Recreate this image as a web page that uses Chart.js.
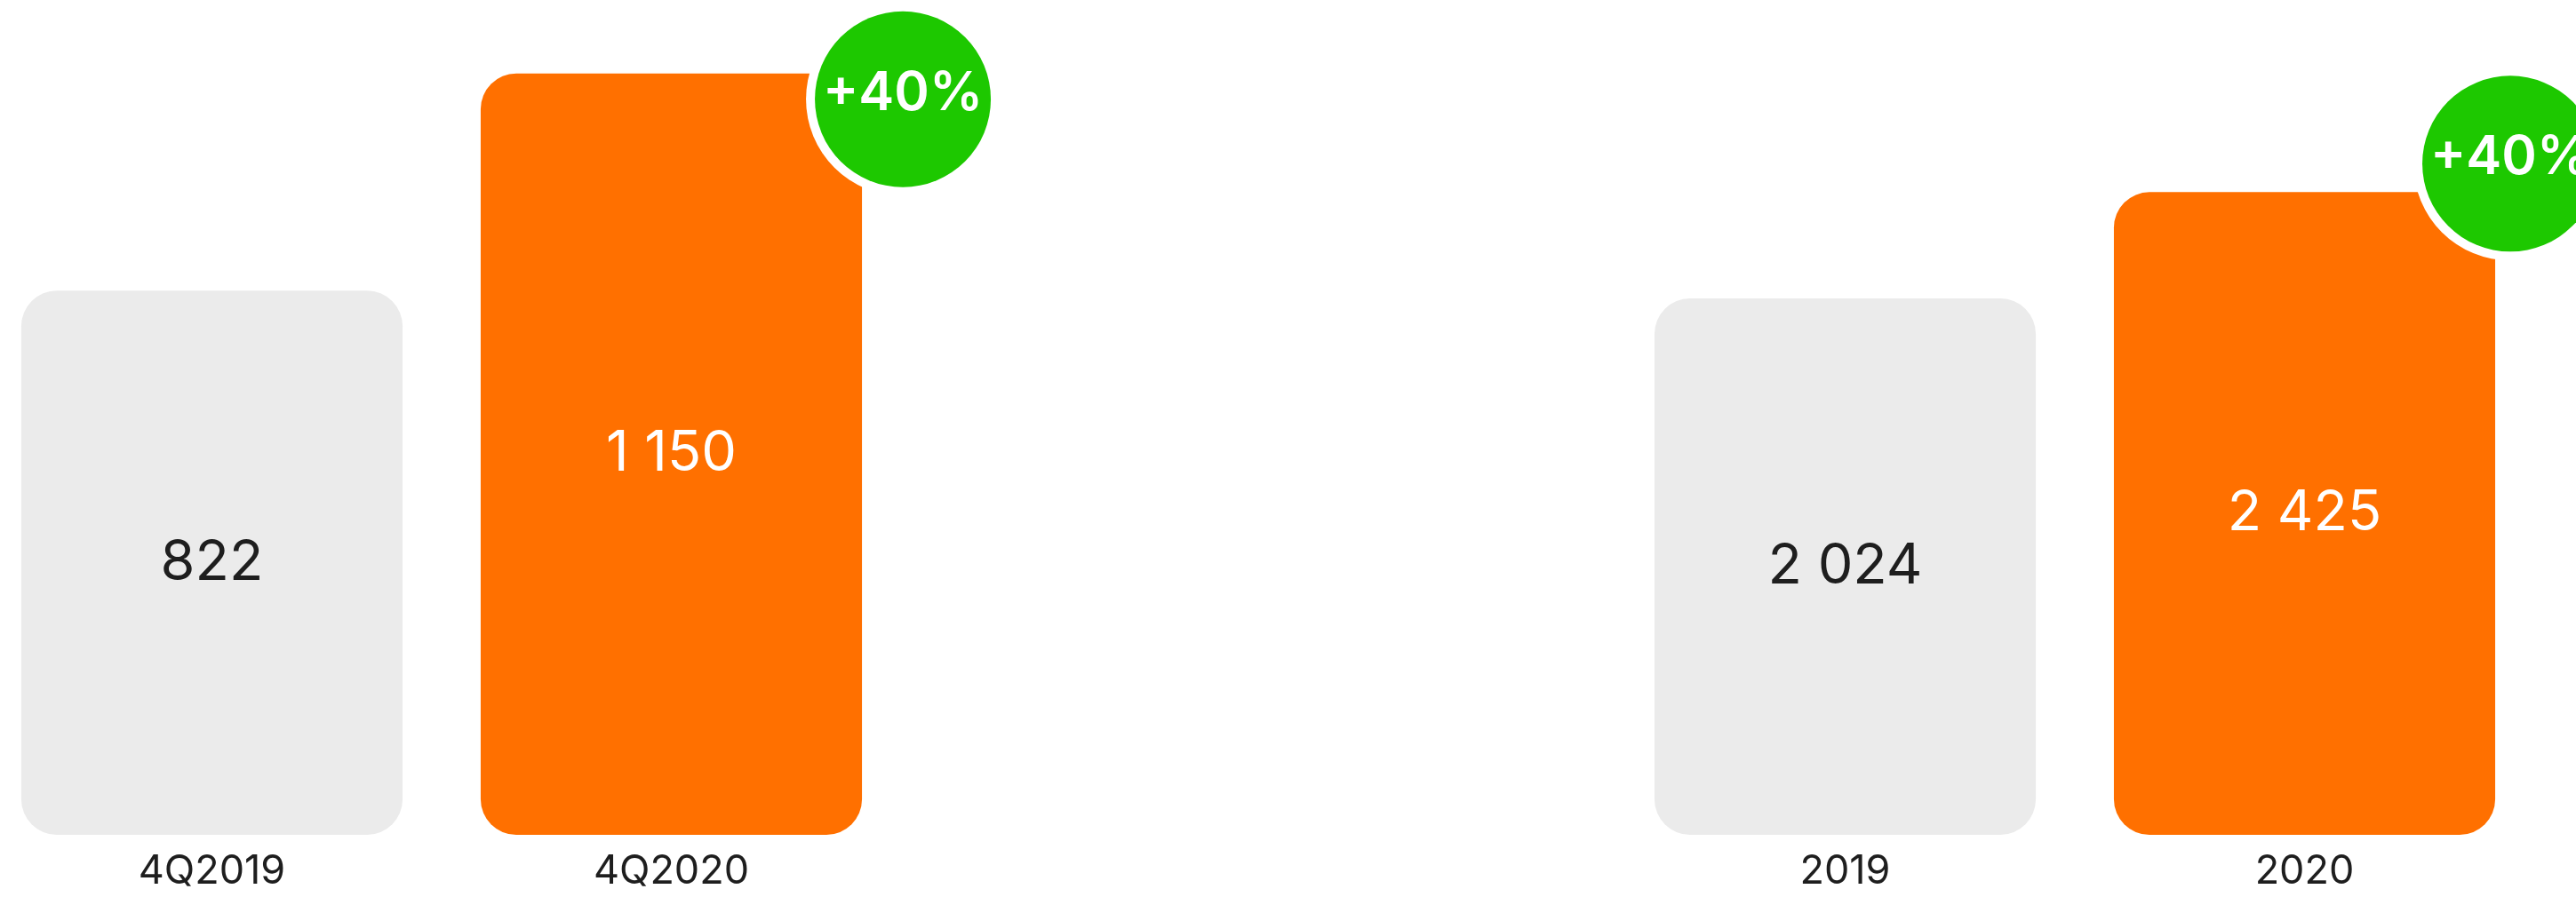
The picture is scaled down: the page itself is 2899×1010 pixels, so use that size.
<!DOCTYPE html>
<html>
<head>
<meta charset="utf-8">
<script src="https://cdn.jsdelivr.net/npm/chart.js@4"></script>
<style>
  html, body { margin: 0; padding: 0; background: #ffffff; overflow: hidden; }
  body { width: 2899px; height: 1010px; position: relative; }
  canvas { position: absolute; top: 0; }
  #left { left: -20px; }
  #right { left: 1818px; }
</style>
</head>
<body>
<canvas id="left" width="1160" height="1010" style="width:1160px;height:1010px"></canvas>
<canvas id="right" width="1081" height="1010" style="width:1081px;height:1010px"></canvas>
<script>
// ---- data ----
const leftCategories = ['4Q2019', '4Q2020'];
const leftValues = [822, 1150];
const leftBadge = '+40%';

const rightCategories = ['2019', '2020'];
const rightValues = [2024, 2425];
const rightBadge = '+40%';

// ---- styles ----
const barColors = ['#EBEBEB', '#FF7000'];
const valueColors = ['#1E1E1E', '#FFFFFF'];
const GREEN = '#1DC800';
const FONT = 'Inter, "Noto Sans", sans-serif';

function fmt(v) {
  return String(v).replace(/\B(?=(\d{3})+(?!\d))/g, ' ');
}

const labelsPlugin = {
  id: 'barLabels',
  afterDatasetsDraw(chart, args, opts) {
    const ctx = chart.ctx;
    const meta = chart.getDatasetMeta(0);
    const data = chart.data.datasets[0].data;
    ctx.save();
    ctx.font = '400 63px ' + FONT;
    ctx.textAlign = 'center';
    ctx.textBaseline = 'middle';
    meta.data.forEach((bar, i) => {
      ctx.fillStyle = valueColors[i];
      const cy = (bar.y + bar.base) / 2;
      ctx.fillText(fmt(data[i]), bar.x, cy);
    });
    // badge on last bar
    const last = meta.data[meta.data.length - 1];
    const bx = last.x + last.width / 2 + opts.dx;
    const by = last.y + opts.dy;
    ctx.beginPath();
    ctx.arc(bx, by, opts.r + 10, 0, Math.PI * 2);
    ctx.fillStyle = '#FFFFFF';
    ctx.fill();
    ctx.beginPath();
    ctx.arc(bx, by, opts.r, 0, Math.PI * 2);
    ctx.fillStyle = GREEN;
    ctx.fill();
    ctx.fillStyle = '#FFFFFF';
    ctx.font = '600 60px ' + FONT;
    ctx.textAlign = 'center';
    ctx.textBaseline = 'middle';
    ctx.fillText(opts.text, bx, by - 6);
    ctx.restore();
  }
};

function makeChart(id, cats, vals, yMax, padRight, badge) {
  return new Chart(document.getElementById(id), {
    type: 'bar',
    data: {
      labels: cats,
      datasets: [{
        data: vals,
        backgroundColor: barColors,
        borderRadius: 40,
        borderSkipped: false,
        barPercentage: 0.83,
        categoryPercentage: 1.0
      }]
    },
    options: {
      responsive: false,
      animation: false,
      devicePixelRatio: 1,
      layout: { padding: { left: 0, right: padRight, top: 0, bottom: 0 } },
      plugins: {
        legend: { display: false },
        tooltip: { enabled: false },
        barLabels: badge
      },
      scales: {
        x: {
          grid: { display: false, drawTicks: false },
          border: { display: false },
          ticks: {
            color: '#1E1E1E',
            font: { family: FONT, size: 45, weight: 400 },
            padding: 14
          },
          afterFit(scale) { scale.height = 70; }
        },
        y: {
          display: false,
          min: 0,
          max: yMax
        }
      }
    },
    plugins: [labelsPlugin]
  });
}

makeChart('left', leftCategories, leftValues, 1261, 126,
  { text: leftBadge, dx: 46, dy: 29, r: 99 });
makeChart('right', rightCategories, rightValues, 3150, 47,
  { text: rightBadge, dx: 17, dy: -32, r: 99 });
</script>
</body>
</html>
